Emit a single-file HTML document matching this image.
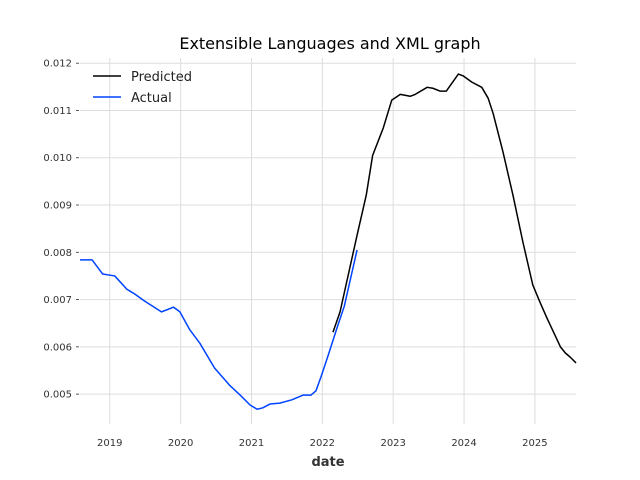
<!DOCTYPE html>
<html><head><meta charset="utf-8"><style>
body{margin:0;background:#fff;}
svg{display:block;font-family:"DejaVu Sans","Liberation Sans",sans-serif;}
</style></head><body>
<svg id="chart" width="640" height="480">
<text x="330" y="49" text-anchor="middle" font-size="16" fill="#000">Extensible Languages and XML graph</text>
<text x="328" y="466" text-anchor="middle" font-size="13" font-weight="bold" fill="#333">date</text>
<g id="grid"></g><g id="ticks"></g><g id="series"></g>
<g>
<line x1="93" y1="76" x2="121" y2="76" stroke="#000" stroke-width="1.5"/>
<text x="131" y="81" font-size="13" fill="#222">Predicted</text>
<line x1="93" y1="97" x2="121" y2="97" stroke="#0044ff" stroke-width="1.5"/>
<text x="131" y="102" font-size="13" fill="#222">Actual</text>
</g>
</svg>
<script>
const xTicks=[2019,2020,2021,2022,2023,2024,2025];
const yTicks=[0.005,0.006,0.007,0.008,0.009,0.010,0.011,0.012];
const actualX=[2018.58,2018.75,2018.90,2019.07,2019.24,2019.35,2019.49,2019.73,2019.90,2019.99,2020.13,2020.27,2020.48,2020.69,2020.84,2020.98,2021.08,2021.16,2021.26,2021.40,2021.57,2021.73,2021.84,2021.91,2021.98,2022.08,2022.22,2022.31,2022.49];
const actualY=[.00784,.00784,.00754,.00750,.00722,.00712,.00697,.00674,.00684,.00674,.00636,.00608,.00555,.00519,.00498,.00477,.00468,.00471,.00479,.00481,.00488,.00498,.00498,.00507,.00536,.00581,.00646,.00686,.00805];
const predX=[2022.15,2022.25,2022.49,2022.62,2022.71,2022.86,2022.98,2023.10,2023.24,2023.31,2023.48,2023.56,2023.66,2023.75,2023.92,2023.99,2024.11,2024.25,2024.34,2024.41,2024.55,2024.69,2024.83,2024.97,2025.07,2025.17,2025.36,2025.43,2025.50,2025.58];
const predY=[.00631,.00674,.00836,.00921,.01005,.01063,.01122,.01134,.01130,.01134,.01149,.01147,.01141,.01141,.01177,.01173,.01160,.01149,.01126,.01094,.01012,.00921,.00822,.00731,.00695,.00661,.00600,.00587,.00578,.00566];
const X0=80,X1=576,Y0=58,Y1=424,xmin=2018.58,xmax=2025.58,ymin=0.004368,ymax=0.01211;
const sx=v=>X0+(v-xmin)/(xmax-xmin)*(X1-X0);
const sy=v=>Y1-(v-ymin)/(ymax-ymin)*(Y1-Y0);
const NS="http://www.w3.org/2000/svg";
const grid=document.getElementById('grid'),ticks=document.getElementById('ticks'),ser=document.getElementById('series');
function mk(t,a,p){const e=document.createElementNS(NS,t);for(const k in a)e.setAttribute(k,a[k]);p.appendChild(e);return e;}
xTicks.forEach(t=>{const x=sx(t);
const g=mk('line',{x1:x,x2:x,y1:Y0,y2:Y1,stroke:'#dddddd','stroke-width':1},grid);


const l=mk('text',{x:x,y:446,'text-anchor':'middle','font-size':10,fill:'#333'},ticks);l.textContent=t;

});
yTicks.forEach(t=>{const y=sy(t);
const g=mk('line',{x1:X0,x2:X1,y1:y,y2:y,stroke:'#dddddd','stroke-width':1},grid);


mk('line',{x1:X0-4,x2:X0-1,y1:y,y2:y,stroke:'#333','stroke-width':0.8},ticks);
const l=mk('text',{x:X0-8,y:y+3.5,'text-anchor':'end','font-size':10,fill:'#333'},ticks);l.textContent=t.toFixed(3);

});
function line(xs,ys,c,name){const p=mk('polyline',{points:xs.map((x,i)=>sx(x)+','+sy(ys[i])).join(' '),fill:'none',stroke:c,'stroke-width':1.5,'stroke-linejoin':'round'},ser);

}
line(predX,predY,'#000','predicted-line');
line(actualX,actualY,'#0044ff','actual-line');
</script>
</body></html>
